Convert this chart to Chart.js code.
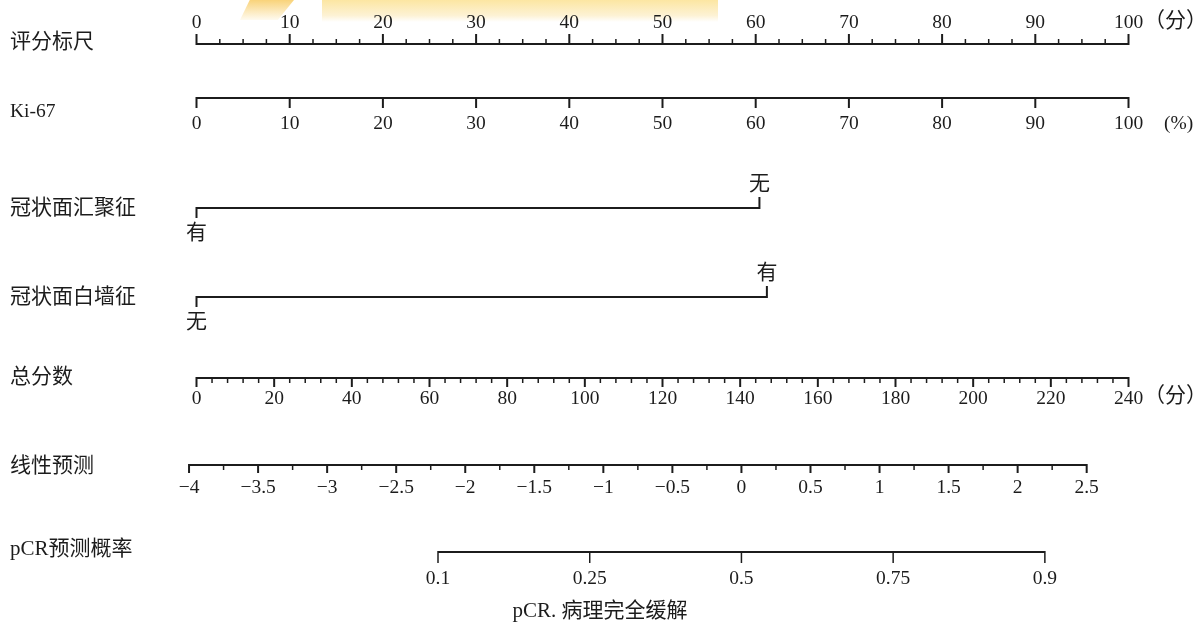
<!DOCTYPE html>
<html><head><meta charset="utf-8">
<script src="https://cdn.jsdelivr.net/npm/chart.js@4.4.0/dist/chart.umd.min.js"></script>
<style>
html,body{margin:0;padding:0;background:#fff;}
#wrap{position:relative;width:1202px;height:626px;overflow:hidden;background:#fff;}
#c{position:absolute;left:0;top:0;}
.wm{position:absolute;top:0;}
</style></head><body>
<div id="wrap">
<div class="wm" style="left:322px;width:396px;height:22px;background:linear-gradient(#fce6a2,#fdf2d4 70%,rgba(255,255,255,0));"></div>
<div class="wm" style="left:240px;width:54px;height:20px;background:linear-gradient(#f9d37a,rgba(253,240,205,0.3));clip-path:polygon(18% 0,100% 0,70% 100%,0 100%);"></div>
<canvas id="c" width="1202" height="626"></canvas>
</div>
<script>
// ---------------- data ----------------
const ROW_LABELS = ['评分标尺', 'Ki-67', '冠状面汇聚征', '冠状面白墙征', '总分数', '线性预测', 'pCR预测概率'];
const POINTS_TICKS = [0, 10, 20, 30, 40, 50, 60, 70, 80, 90, 100];
const KI67_TICKS = [0, 10, 20, 30, 40, 50, 60, 70, 80, 90, 100];
const KI67_POINTS_MAX = 100;          // Ki-67 100% -> 100 points
const CONV_LEVELS = ['有', '无'];      // 冠状面汇聚征
const CONV_POINTS = [0, 60.4];
const WALL_LEVELS = ['无', '有'];      // 冠状面白墙征
const WALL_POINTS = [0, 61.2];
const TOTAL_TICKS = [0, 20, 40, 60, 80, 100, 120, 140, 160, 180, 200, 220, 240];
const LP_TICKS = [-4, -3.5, -3, -2.5, -2, -1.5, -1, -0.5, 0, 0.5, 1, 1.5, 2, 2.5];
const LP_TICK_LABELS = ['\u22124', '\u22123.5', '\u22123', '\u22122.5', '\u22122', '\u22121.5', '\u22121', '\u22120.5', '0', '0.5', '1', '1.5', '2', '2.5'];
const PROB_TICKS = [0.1, 0.25, 0.5, 0.75, 0.9];
const LP_INTERCEPT = -3.946;   // linear predictor at 0 total points
const LP_SLOPE = 0.02812;      // linear predictor per total point
const CAPTION = 'pCR. 病理完全缓解';

// ---------------- style / layout ----------------
const INK = '#1c1c1c';
const NUM_FONT = '19.5px "Liberation Serif", "Noto Sans CJK SC", serif';
const CJK_FONT = '21px "Liberation Serif", "Noto Sans CJK SC", serif';
const LAYOUT = {
  rows: [ {line: 44, label: 42}, {line: 98, label: 112}, {line: 208, label: 208}, {line: 297, label: 297},
          {line: 378, label: 377}, {line: 465, label: 466}, {line: 552, label: 549} ],
  labelX: 10
};

const logit = p => Math.log(p / (1 - p));
const lpOf = t => LP_INTERCEPT + LP_SLOPE * t;
const minorBetween = (ticks, n) => {
  const out = [];
  for (let i = 0; i < ticks.length - 1; i++)
    for (let k = 1; k < n; k++) out.push(ticks[i] + (ticks[i + 1] - ticks[i]) * k / n);
  return out;
};

const R = LAYOUT.rows;
const lineDS = (axis, x0, x1, y) => ({
  xAxisID: axis, yAxisID: 'y', data: [{x: x0, y: y}, {x: x1, y: y}],
  showLine: true, pointRadius: 0, borderColor: INK, borderWidth: 2, clip: false
});

const datasets = [
  lineDS('x', POINTS_TICKS[0], POINTS_TICKS[POINTS_TICKS.length - 1], R[0].line),
  lineDS('ki', KI67_TICKS[0], KI67_TICKS[KI67_TICKS.length - 1], R[1].line),
  lineDS('x', CONV_POINTS[0], CONV_POINTS[1], R[2].line),
  lineDS('x', WALL_POINTS[0], WALL_POINTS[1], R[3].line),
  lineDS('tot', TOTAL_TICKS[0], TOTAL_TICKS[TOTAL_TICKS.length - 1], R[4].line),
  lineDS('lp', LP_TICKS[0], LP_TICKS[LP_TICKS.length - 1], R[5].line),
  lineDS('lp', logit(PROB_TICKS[0]), logit(PROB_TICKS[PROB_TICKS.length - 1]), R[6].line)
];

const nomogram = {
  id: 'nomogram',
  afterDatasetsDraw(chart) {
    const ctx = chart.ctx, S = chart.scales;
    ctx.save();
    ctx.strokeStyle = INK; ctx.fillStyle = INK; ctx.lineCap = 'butt';
    const tick = (px, y, len, w) => { ctx.lineWidth = w; ctx.beginPath(); ctx.moveTo(px, y); ctx.lineTo(px, y + len); ctx.stroke(); };
    const text = (s, x, y, align, base, font) => { ctx.font = font; ctx.textAlign = align; ctx.textBaseline = base; ctx.fillText(s, x, y); };

    // row labels
    ROW_LABELS.forEach((s, i) => text(s, LAYOUT.labelX, R[i].label, 'left', 'middle', i === 1 ? NUM_FONT : CJK_FONT));

    // 评分标尺 (points)
    POINTS_TICKS.forEach(v => { const px = S.x.getPixelForValue(v); tick(px, R[0].line + 1, -11, 2); text(String(v), px, 28, 'center', 'alphabetic', NUM_FONT); });
    minorBetween(POINTS_TICKS, 4).forEach(v => tick(S.x.getPixelForValue(v), R[0].line + 1, -6, 1.5));
    text('（分）', 1144, 21, 'left', 'middle', CJK_FONT);

    // Ki-67
    KI67_TICKS.forEach(v => { const px = S.ki.getPixelForValue(v); tick(px, R[1].line - 1, 11, 2); text(String(v), px, 129, 'center', 'alphabetic', NUM_FONT); });
    text('(%)', 1164, 129, 'left', 'alphabetic', NUM_FONT);

    // categorical rows
    const cat = (levels, pts, row) => {
      const a = S.x.getPixelForValue(pts[0]), b = S.x.getPixelForValue(pts[1]);
      tick(a, row.line - 1, 11, 2);
      tick(b, row.line + 1, -12, 2);
      text(levels[0], a, row.line + 25, 'center', 'middle', CJK_FONT);
      text(levels[1], b, row.line - 24, 'center', 'middle', CJK_FONT);
    };
    cat(CONV_LEVELS, CONV_POINTS, R[2]);
    cat(WALL_LEVELS, WALL_POINTS, R[3]);

    // 总分数
    TOTAL_TICKS.forEach(v => { const px = S.tot.getPixelForValue(v); tick(px, R[4].line - 1, 10, 2); text(String(v), px, 404, 'center', 'alphabetic', NUM_FONT); });
    minorBetween(TOTAL_TICKS, 5).forEach(v => tick(S.tot.getPixelForValue(v), R[4].line - 1, 6, 1.5));
    text('（分）', 1144, 396, 'left', 'middle', CJK_FONT);

    // 线性预测
    LP_TICKS.forEach((v, i) => { const px = S.lp.getPixelForValue(v); tick(px, R[5].line - 1, 9, 2); text(LP_TICK_LABELS[i], px, 493, 'center', 'alphabetic', NUM_FONT); });
    minorBetween(LP_TICKS, 2).forEach(v => tick(S.lp.getPixelForValue(v), R[5].line - 1, 6, 1.5));

    // pCR预测概率
    PROB_TICKS.forEach(p => { const px = S.lp.getPixelForValue(logit(p)); tick(px, R[6].line - 1, 12, 1.5); text(String(p), px, 584, 'center', 'alphabetic', NUM_FONT); });

    // caption
    text(CAPTION, 600, 611, 'center', 'middle', CJK_FONT);
    ctx.restore();
  }
};

new Chart(document.getElementById('c'), {
  type: 'scatter',
  data: { datasets },
  options: {
    responsive: false, animation: false,
    layout: { padding: { left: 196.5, right: 73.5, top: 0, bottom: 0 } },
    plugins: { legend: { display: false }, tooltip: { enabled: false } },
    scales: {
      x:   { type: 'linear', display: false, min: 0, max: 100 },
      ki:  { type: 'linear', axis: 'x', display: false, min: 0, max: KI67_POINTS_MAX },
      tot: { type: 'linear', axis: 'x', display: false, min: 0, max: 240 },
      lp:  { type: 'linear', axis: 'x', display: false, min: lpOf(0), max: lpOf(240) },
      y:   { type: 'linear', display: false, min: 0, max: 626, reverse: true }
    }
  },
  plugins: [nomogram]
});
</script>
</body></html>
